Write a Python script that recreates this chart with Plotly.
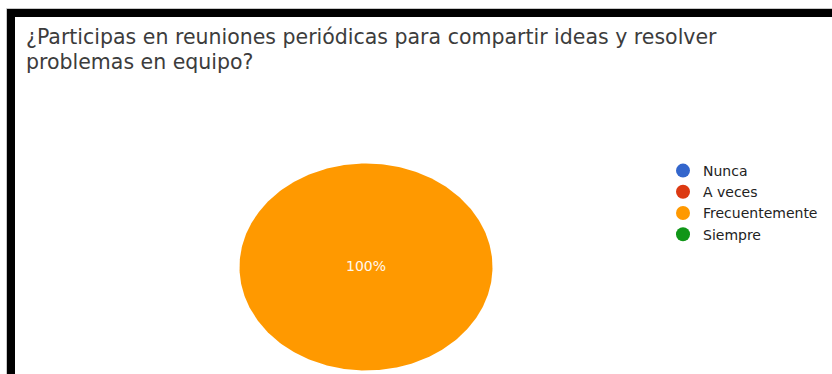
import numpy as np
import plotly.graph_objects as go

# Survey question (two display lines) and answer distribution (percent of responses)
question_lines = [
    "¿Participas en reuniones periódicas para compartir ideas y resolver",
    "problemas en equipo?",
]
categories = ["Nunca", "A veces", "Frecuentemente", "Siempre"]
responses = [0, 0, 100, 0]
colors = ["#3366cc", "#dc3912", "#ff9900", "#109618"]

W, H = 832, 374
# Pie geometry in pixels (centre and radii of the drawn ellipse)
CX, CY, RX, RY = 366, 267, 126.5, 103.5
FONT = "DejaVu Sans, Open Sans, Arial, sans-serif"

fig = go.Figure()

total = float(sum(responses))
start = 0.0
for name, val, col in zip(categories, responses, colors):
    frac = val / total
    if frac > 0:
        end = start + frac * 2 * np.pi
        theta = np.linspace(start, end, max(int(frac * 360), 2) + 1)
        xs = list(np.sin(theta))
        ys = list(np.cos(theta))
        if frac < 1:
            xs = [0.0] + xs + [0.0]
            ys = [0.0] + ys + [0.0]
        fig.add_trace(go.Scatter(
            x=xs, y=ys, mode="lines", fill="toself", fillcolor=col,
            line=dict(width=0, color=col), showlegend=False, hoverinfo="skip",
        ))
        if frac >= 1:
            lx, ly = 0.0, 0.0
        else:
            mid = (start + end) / 2
            lx, ly = 0.65 * np.sin(mid), 0.65 * np.cos(mid)
        fig.add_trace(go.Scatter(
            x=[lx], y=[ly], mode="text", text=[f"{frac * 100:.0f}%"],
            textposition="middle center",
            textfont=dict(family=FONT, size=14, color="#fff8ee"),
            showlegend=False, hoverinfo="skip",
        ))
    start += frac * 2 * np.pi

# Legend entries (one per answer option, including empty ones)
for name, col in zip(categories, colors):
    fig.add_trace(go.Scatter(
        x=[None], y=[None], mode="markers", name=name,
        marker=dict(color=col, size=14, symbol="circle"),
    ))

fig.update_xaxes(range=[-CX / RX, (W - CX) / RX], visible=False, fixedrange=True)
fig.update_yaxes(range=[-(H - CY) / RY, CY / RY], visible=False, fixedrange=True)

# Question text, one annotation per line
line_centres = [37, 62]
annotations = [
    dict(text=txt, xref="paper", yref="paper",
         x=24 / W, xanchor="left", y=1 - yc / H, yanchor="middle",
         align="left", showarrow=False,
         font=dict(family=FONT, size=20.5, color="#3c3c3c"))
    for txt, yc in zip(question_lines, line_centres)
]

fig.update_layout(
    width=W, height=H,
    margin=dict(l=0, r=0, t=0, b=0),
    paper_bgcolor="#ffffff", plot_bgcolor="#ffffff",
    annotations=annotations,
    legend=dict(
        x=663 / W, xanchor="left", y=1 - 155 / H, yanchor="top",
        font=dict(family=FONT, size=14, color="#222222"),
        bgcolor="rgba(0,0,0,0)", itemclick=False, itemdoubleclick=False,
    ),
    shapes=[
        dict(type="rect", xref="paper", yref="paper",
             x0=6.5 / W, y0=1 - 8.5 / H, x1=1.1, y1=-0.1,
             line=dict(color="#c8c8c8", width=1)),
        dict(type="rect", xref="paper", yref="paper",
             x0=11 / W, y0=1 - 13 / H, x1=1.1, y1=-0.1,
             line=dict(color="#000000", width=8)),
    ],
    showlegend=True,
)

fig.write_html("out.html")
